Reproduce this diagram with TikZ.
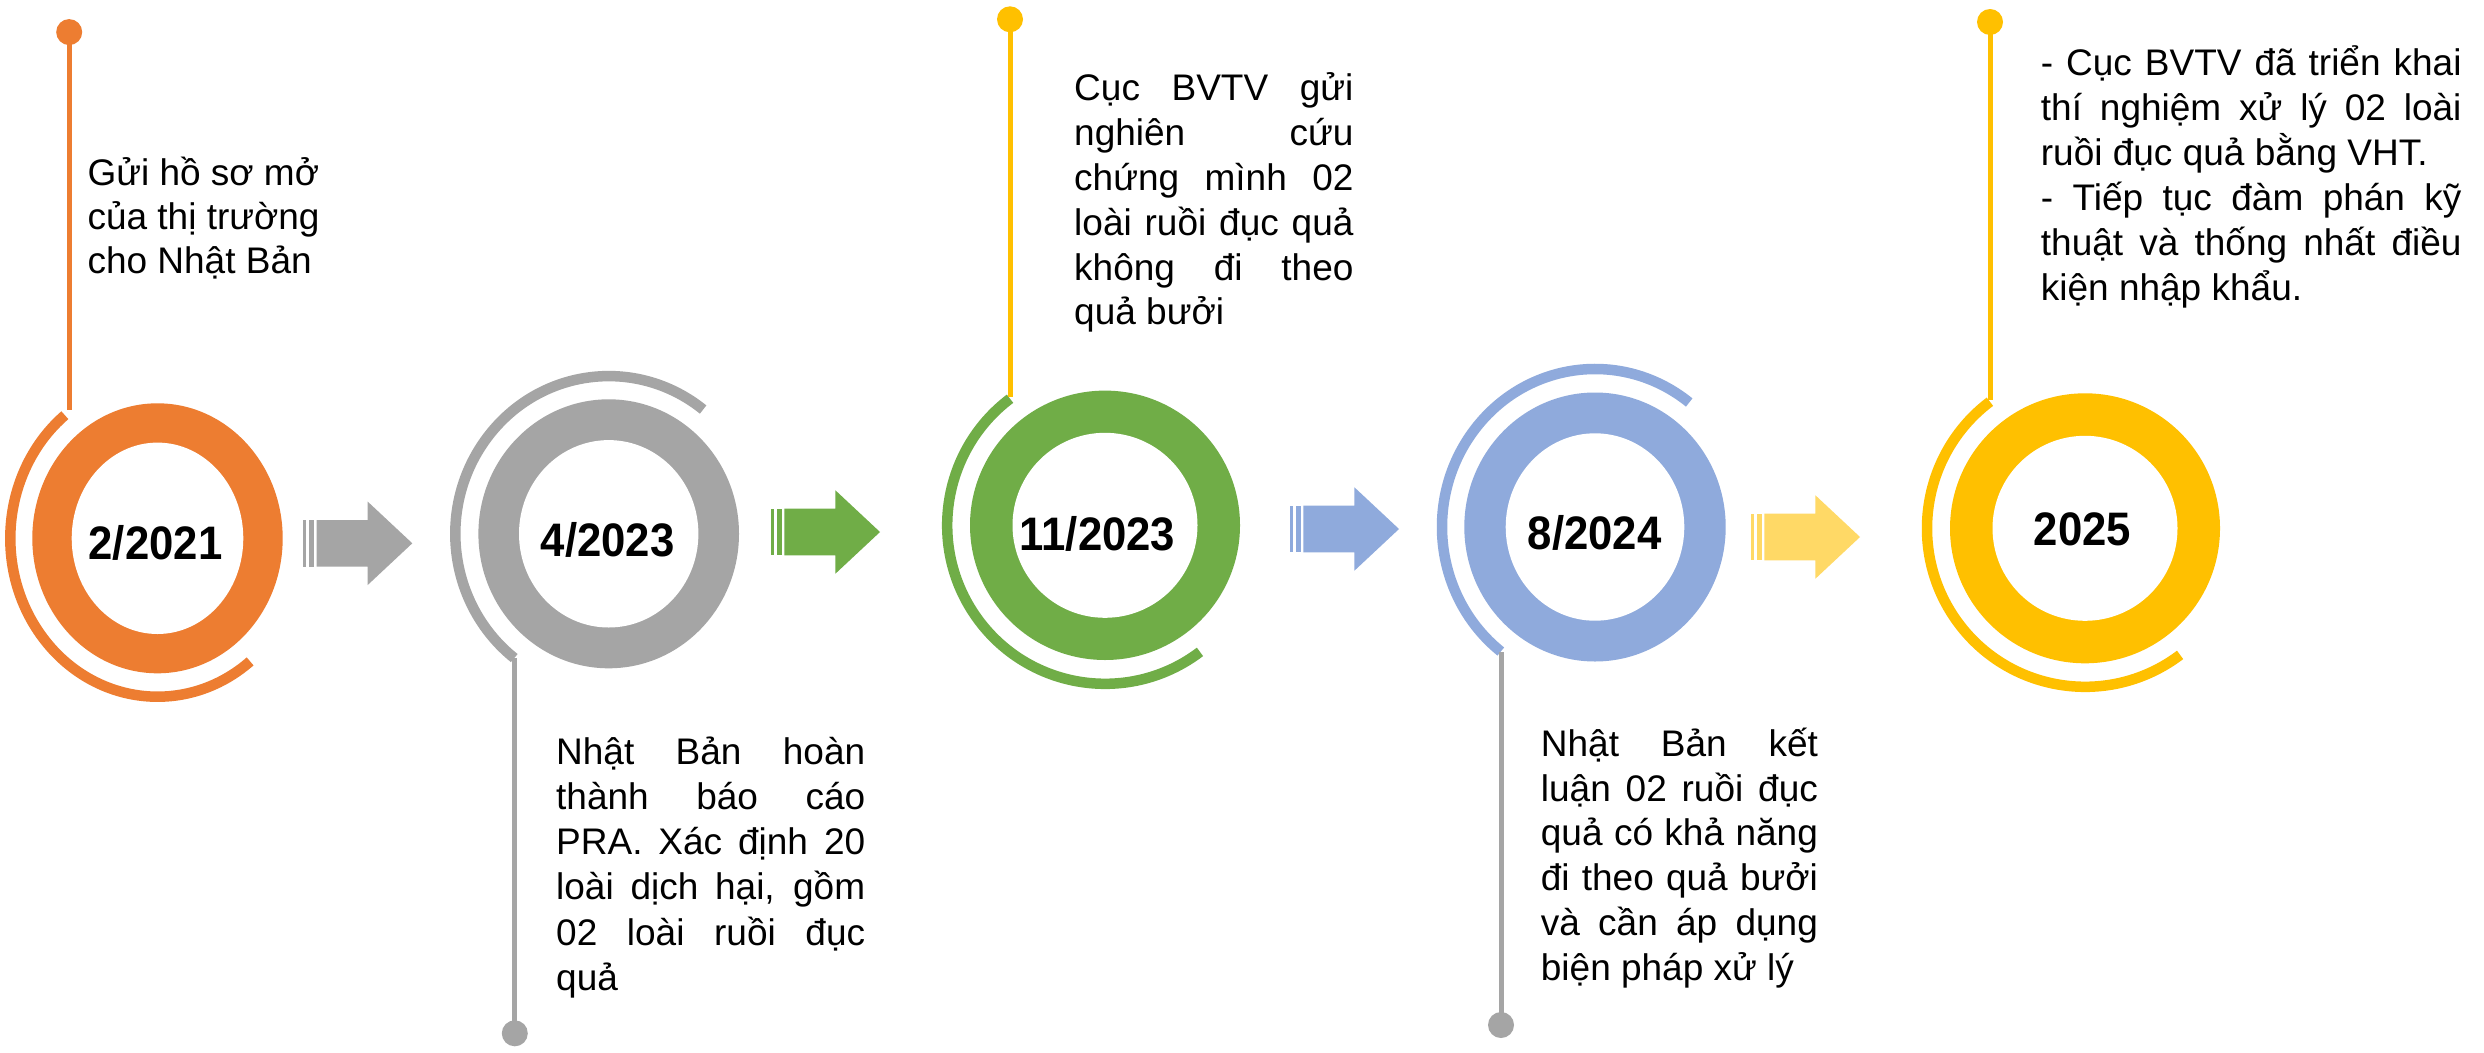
\documentclass[tikz,border=0pt]{standalone}
\usepackage{fontspec}
\setmainfont{Liberation Sans}
\usepackage{graphicx}
\definecolor{cOrange}{HTML}{ED7D31}
\definecolor{cGray}{HTML}{A5A5A5}
\definecolor{cGreen}{HTML}{70AD47}
\definecolor{cBlue}{HTML}{8FAADC}
\definecolor{cYellow}{HTML}{FFC000}
\definecolor{cLightYellow}{HTML}{FFD966}
\newcommand\jl[2]{\hbox to #1pt{#2}}
\newcommand\blockarrow[3]{%
  \fill[#3] (#1,#2-23.3) rectangle (#1+2.7,#2+23.3);
  \fill[#3] (#1+5.7,#2-23.3) rectangle (#1+11,#2+23.3);
  \fill[#3] (#1+13.4,#2-23.3) -- (#1+64.4,#2-23.3) -- (#1+64.4,#2-41.7) -- (#1+109,#2)
     -- (#1+64.4,#2+41.7) -- (#1+64.4,#2+23.3) -- (#1+13.4,#2+23.3) -- cycle;}
\begin{document}
\begin{tikzpicture}[x=1pt,y=-1pt,
  arcline/.style={line width=10.5pt},
  stem/.style={line width=5pt},
  year/.style={font=\fontsize{47}{50}\selectfont\bfseries, anchor=base, inner sep=0pt},
  body/.style={font=\fontsize{37}{44.6}\selectfont, anchor=base west, inner sep=0pt}]
\useasboundingbox (0,0) rectangle (2484,1052);
\fill[white] (0,0) rectangle (2484,1052);
\lineskiplimit=-100pt

% centres
\coordinate (c1) at (157.5,538.3);
\coordinate (c2) at (608.7,533.8);
\coordinate (c3) at (1105,525.3);
\coordinate (c4) at (1595,527);
\coordinate (c5) at (2085,528.3);

% rings
\fill[cOrange] (c1) ellipse [x radius=125.2, y radius=135];
\fill[white] (c1) ellipse [x radius=85.8, y radius=95.7];
\fill[cGray] (c2) ellipse [x radius=130.3, y radius=134.5];
\fill[white] (c2) ellipse [x radius=89.7, y radius=93.7];
\fill[cGreen] (c3) ellipse [x radius=135, y radius=134.7];
\fill[white] (c3) ellipse [x radius=92.5, y radius=92.5];
\fill[cBlue] (c4) ellipse [x radius=130.7, y radius=134.5];
\fill[white] (c4) ellipse [x radius=89.3, y radius=93.7];
\fill[cYellow] (c5) ellipse [x radius=135, y radius=135];
\fill[white] (c5) ellipse [x radius=92.5, y radius=92.5];

% outer arcs
\draw[arcline, cOrange] (c1) ++(-129:147.2 and 158.4) arc[start angle=-129, end angle=-309, x radius=147.2, y radius=158.4];
\draw[arcline, cGray] (c2) ++(-52:153.4 and 157.7) arc[start angle=-52, end angle=-232, x radius=153.4, y radius=157.7];
\draw[arcline, cGreen] (c3) ++(-127:157.8 and 158.5) arc[start angle=-127, end angle=-307, x radius=157.8, y radius=158.5];
\draw[arcline, cBlue] (c4) ++(-52:153 and 158) arc[start angle=-52, end angle=-232, x radius=153, y radius=158];
\draw[arcline, cYellow] (c5) ++(-127:158 and 158.5) arc[start angle=-127, end angle=-307, x radius=158, y radius=158.5];

% stems and dots
\coordinate (d1) at (69.2,32.1);   \coordinate (s1) at (69.2,410);
\coordinate (d2) at (514.8,1033.3); \coordinate (s2) at (514.8,658);
\coordinate (d3) at (1010,19.3);   \coordinate (s3) at (1010,397);
\coordinate (d4) at (1501,1025);   \coordinate (s4) at (1501,652);
\coordinate (d5) at (1990,22);     \coordinate (s5) at (1990,400);
\draw[stem, cOrange] (d1) -- (s1); \fill[cOrange] (d1) circle[radius=13];
\draw[stem, cGray] (d2) -- (s2);   \fill[cGray] (d2) circle[radius=13];
\draw[stem, cYellow] (d3) -- (s3); \fill[cYellow] (d3) circle[radius=13];
\draw[stem, cGray] (d4) -- (s4);   \fill[cGray] (d4) circle[radius=13];
\draw[stem, cYellow] (d5) -- (s5); \fill[cYellow] (d5) circle[radius=13];

% arrows
\blockarrow{303.3}{543.3}{cGray}
\blockarrow{771}{532}{cGreen}
\blockarrow{1290}{529}{cBlue}
\blockarrow{1751}{537}{cLightYellow}

% years
\node[year] (y1) at (155.5,559) {\scalebox{0.93}[1]{2/2021}};
\node[year] (y2) at (607.7,556) {\scalebox{0.93}[1]{4/2023}};
\node[year] (y3) at (1097.5,550) {\scalebox{0.93}[1]{11/2023}};
\node[year] (y4) at (1594.7,549) {\scalebox{0.93}[1]{8/2024}};
\node[year] (y5) at (2082.5,545) {\scalebox{0.93}[1]{2025}};

% texts
\node[body] (t1) at (87.3,185.8) {\vtop{\baselineskip=44pt
  \hbox{Gửi hồ sơ mở}\hbox{của thị trường}\hbox{cho Nhật Bản}}};
\node[body] (t2) at (556,764.3) {\vtop{\baselineskip=45.2pt
  \jl{309}{Nhật Bản hoàn}\jl{309}{thành báo cáo}\jl{309}{PRA. Xác định 20}%
  \jl{309}{loài dịch hại, gồm}\jl{309}{02 loài ruồi đục}\hbox{quả}}};
\node[body] (t3) at (1074,100.9) {\vtop{\baselineskip=44.8pt
  \jl{279.3}{Cục BVTV gửi}\jl{279.3}{nghiên cứu}\jl{279.3}{chứng mình 02}%
  \jl{279.3}{loài ruồi đục quả}\jl{279.3}{không đi theo}\hbox{quả bưởi}}};
\node[body] (t4) at (1540.7,756.5) {\vtop{\baselineskip=44.7pt
  \jl{277}{Nhật Bản kết}\jl{277}{luận 02 ruồi đục}\jl{277}{quả có khả năng}%
  \jl{277}{đi theo quả bưởi}\jl{277}{và cần áp dụng}\hbox{biện pháp xử lý}}};
\node[body] (t5) at (2040.7,75.7) {\vtop{\baselineskip=45pt
  \jl{420.6}{- Cục BVTV đã triển khai}\jl{420.6}{thí nghiệm xử lý 02 loài}\hbox{ruồi đục quả bằng VHT.}%
  \jl{420.6}{- Tiếp tục đàm phán kỹ}\jl{420.6}{thuật và thống nhất điều}\hbox{kiện nhập khẩu.}}};
\end{tikzpicture}
\end{document}
